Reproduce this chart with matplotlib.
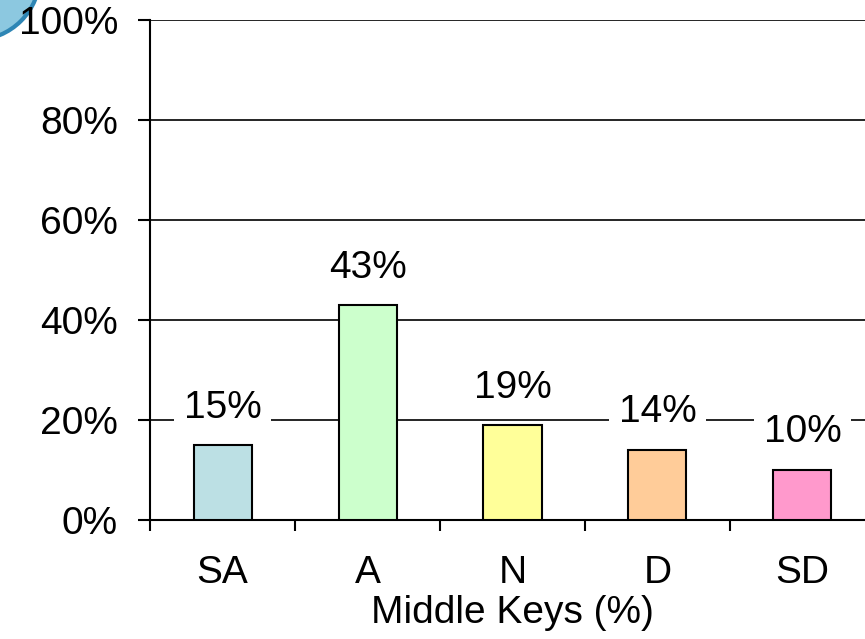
import matplotlib
matplotlib.use("Agg")
import matplotlib.pyplot as plt
from matplotlib.patches import Circle

categories = ["SA", "A", "N", "D", "SD"]
values = [15, 43, 19, 14, 10]
colors = ["#BCE0E4", "#CCFFCC", "#FFFF99", "#FFCC99", "#FF99CC"]

plt.rcParams['font.family'] = ['Liberation Sans', 'DejaVu Sans']
FS = 28

fig = plt.figure(figsize=(8.65, 6.39), dpi=100)
ax = fig.add_axes([150 / 865, 1 - 520 / 639, 725 / 865, 500 / 639])

# bit of the logo peeking in at the top-left corner
logo = Circle((-25, 639 + 25), 65, transform=None, facecolor="#8CC8E0",
              edgecolor="#2E86B5", linewidth=3, zorder=-5)
fig.patches.append(logo)

x = list(range(len(categories)))
ax.bar(x, values, width=0.4, color=colors, edgecolor="black", linewidth=1.5, zorder=3)

for xi, v in zip(x, values):
    ax.annotate(f"{v}%", (xi, v), xytext=(0, 27), textcoords="offset points",
                ha="center", va="center", fontsize=FS, zorder=5,
                bbox=dict(boxstyle="square,pad=0.25", facecolor="white", edgecolor="none"))

ax.set_xlim(-0.5, len(categories) - 0.5)
ax.set_ylim(0, 100)
ax.set_yticks(range(0, 101, 20))
ax.set_yticklabels([f"{t}%" for t in range(0, 101, 20)], fontsize=FS)
ax.yaxis.grid(True, color="black", linewidth=1.2, zorder=0)
ax.set_axisbelow(True)

ax.set_xticks(x)
ax.set_xticklabels(categories, fontsize=FS)
ax.set_xticks([i - 0.5 for i in range(len(categories) + 1)], minor=True)
ax.tick_params(axis="x", which="major", length=0, pad=25)
ax.tick_params(axis="x", which="minor", length=8, width=1.5, direction="out")
ax.tick_params(axis="y", length=9, width=1.5, direction="out", pad=14)
ax.set_xlabel("Middle Keys (%)", fontsize=FS, labelpad=3)

for side in ["top", "right"]:
    ax.spines[side].set_visible(False)
for side in ["left", "bottom"]:
    ax.spines[side].set_linewidth(1.5)

fig.savefig("out.png", dpi=100)
